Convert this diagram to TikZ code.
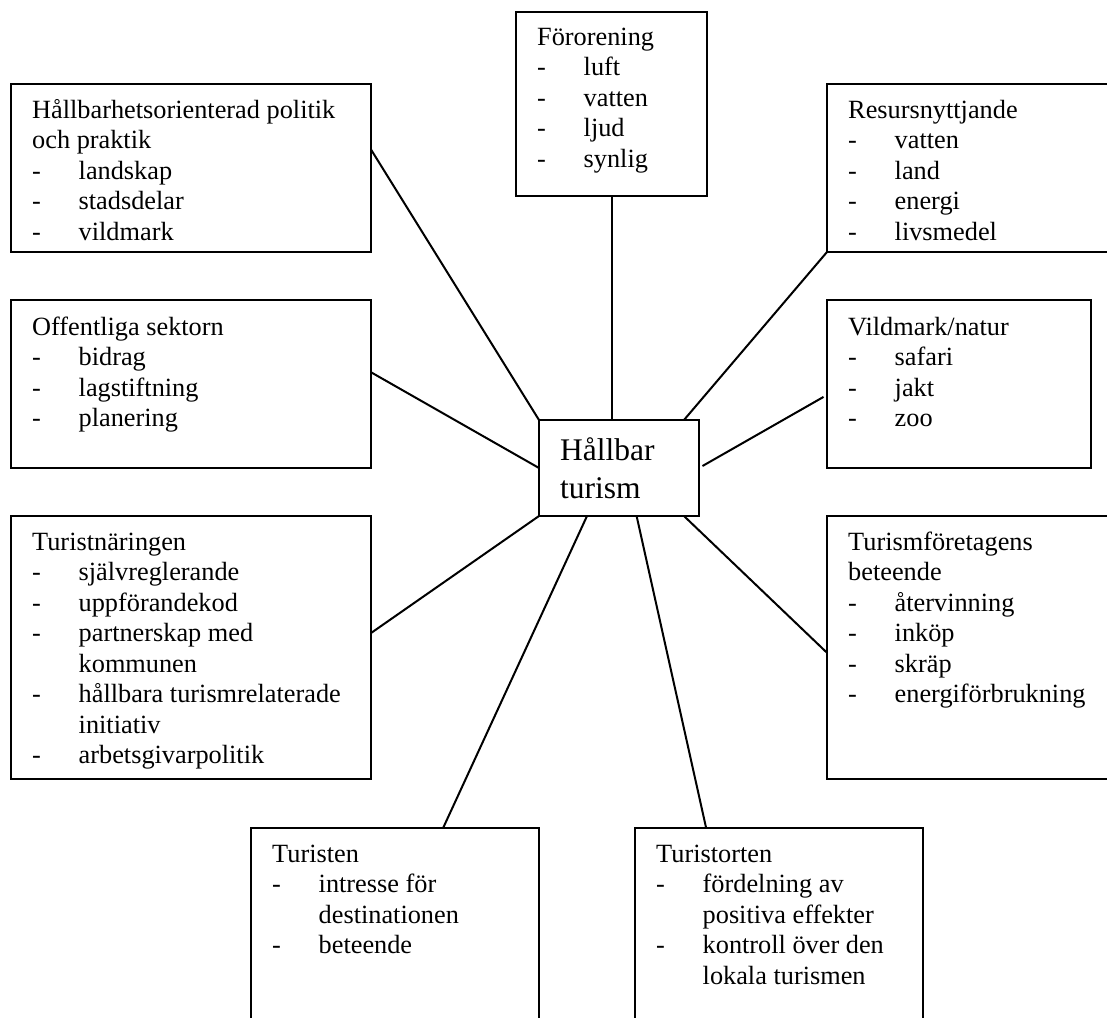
\documentclass[tikz,border=0pt]{standalone}
\usepackage{fontspec}
\setmainfont{Liberation Serif}
\usetikzlibrary{calc}

% one bulleted row and one continuation row inside a box
\newcommand\bulrow[1]{\makebox[46.5pt][l]{-}#1}
\newcommand\controw[1]{\hspace*{46.5pt}#1}
% a block of lines whose baseline is that of its first line
\newcommand\lines[1]{\begin{tabular}[t]{@{}l@{}}#1\end{tabular}}

\tikzset{
  box/.style={draw, line width=2pt, rectangle, inner sep=0pt, outer sep=0pt, anchor=north west},
  boxtext/.style={anchor=base west, inner sep=0pt, font=\fontsize{26.3}{30.5}\selectfont},
  centertext/.style={anchor=base west, inner sep=0pt, font=\fontsize{31.5}{38}\selectfont},
  link/.style={line width=2pt},
}

\begin{document}
\begin{tikzpicture}[x=1pt, y=-1pt]
\useasboundingbox (0,0) rectangle (1107,1017);
\clip (0,0) rectangle (1107,1017);

% central box
\node[box, minimum width=160pt, minimum height=96pt] (c) at (539,420) {};
\node[centertext] (ct) at (560,460) {\lines{Hållbar\\turism}};

% surrounding boxes
\node[box, minimum width=191pt, minimum height=184pt] (f) at (516,12) {};
\node[boxtext] (ft) at (537,45) {\lines{Förorening\\\bulrow{luft}\\\bulrow{vatten}\\\bulrow{ljud}\\\bulrow{synlig}}};

\node[box, minimum width=360pt, minimum height=168pt] (hp) at (11,84) {};
\node[boxtext] (hpt) at (32,118) {\lines{Hållbarhetsorienterad politik\\och praktik\\\bulrow{landskap}\\\bulrow{stadsdelar}\\\bulrow{vildmark}}};

\node[box, minimum width=300pt, minimum height=168pt] (r) at (827,84) {};
\node[boxtext] (rt) at (848,118) {\lines{Resursnyttjande\\\bulrow{vatten}\\\bulrow{land}\\\bulrow{energi}\\\bulrow{livsmedel}}};

\node[box, minimum width=360pt, minimum height=168pt] (o) at (11,300) {};
\node[boxtext] (ot) at (32,335) {\lines{Offentliga sektorn\\\bulrow{bidrag}\\\bulrow{lagstiftning}\\\bulrow{planering}}};

\node[box, minimum width=264pt, minimum height=168pt] (v) at (827,300) {};
\node[boxtext] (vt) at (848,335) {\lines{Vildmark/natur\\\bulrow{safari}\\\bulrow{jakt}\\\bulrow{zoo}}};

\node[box, minimum width=360pt, minimum height=263pt] (tn) at (11,516) {};
\node[boxtext] (tnt) at (32,550) {\lines{Turistnäringen\\\bulrow{självreglerande}\\\bulrow{uppförandekod}\\\bulrow{partnerskap med}\\\controw{kommunen}\\\bulrow{hållbara turismrelaterade}\\\controw{initiativ}\\\bulrow{arbetsgivarpolitik}}};

\node[box, minimum width=300pt, minimum height=263pt] (tf) at (827,516) {};
\node[boxtext] (tft) at (848,550) {\lines{Turismföretagens\\beteende\\\bulrow{återvinning}\\\bulrow{inköp}\\\bulrow{skräp}\\\bulrow{energiförbrukning}}};

\node[box, minimum width=288pt, minimum height=220pt] (ts) at (251,828) {};
\node[boxtext] (tst) at (272,862) {\lines{Turisten\\\bulrow{intresse för}\\\controw{destinationen}\\\bulrow{beteende}}};

\node[box, minimum width=288pt, minimum height=220pt] (to) at (635,828) {};
\node[boxtext] (tot) at (656,862) {\lines{Turistorten\\\bulrow{fördelning av}\\\controw{positiva effekter}\\\bulrow{kontroll över den}\\\controw{lokala turismen}}};

% connectors to the central box
\draw[link] ($(hp.north east)!0.39!(hp.south east)$) -- (c.north west);
\draw[link] (f.south) -- (f.south |- c.north);
\draw[link] (r.south west) -- ($(c.north west)!0.906!(c.north east)$);
\draw[link] ($(o.north east)!0.43!(o.south east)$) -- (c.west);
\draw[link, shorten <=4pt, shorten >=4pt] ($(v.north west)!0.565!(v.south west)$) -- (c.east);
\draw[link] ($(tn.north east)!0.445!(tn.south east)$) -- (c.south west);
\draw[link] ($(c.south west)!0.3!(c.south east)$) -- ($(ts.north west)!0.667!(ts.north east)$);
\draw[link] ($(c.south west)!0.61!(c.south east)$) -- ($(to.north west)!0.247!(to.north east)$);
\draw[link] ($(c.south west)!0.906!(c.south east)$) -- ($(tf.north west)!0.52!(tf.south west)$);
\end{tikzpicture}
\end{document}
